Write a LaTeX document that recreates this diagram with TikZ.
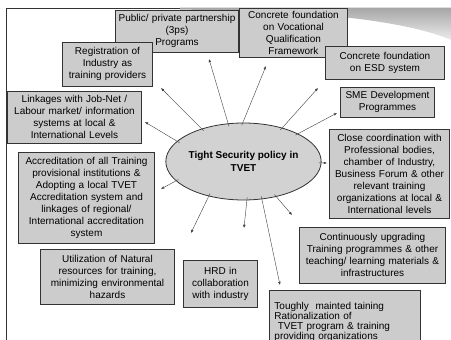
\documentclass[tikz,border=0pt]{standalone}
\usepackage{fontspec}
\setmainfont{Liberation Sans}
\usetikzlibrary{shapes.geometric,arrows.meta}
\definecolor{boxgray}{HTML}{CCCCCC}
\definecolor{hubgray}{HTML}{D2D2D2}
\definecolor{edgegray}{HTML}{333333}
\begin{document}
\begin{tikzpicture}[x=1pt,y=-1pt,
  box/.style={draw=edgegray, fill=boxgray, line width=0.9pt, align=center,
    inner xsep=2pt, inner ysep=0pt, font=\fontsize{10}{12}\selectfont},
  hub/.style={ellipse, draw=edgegray, fill=hubgray, line width=0.8pt, align=center,
    minimum width=143pt, minimum height=77pt, inner sep=0pt,
    font=\fontsize{10}{12.5}\selectfont\bfseries},
  spoke/.style={draw=black!75, line width=0.4pt, shorten <=-3pt,
    -{Latex[length=3.2pt,width=2.6pt]}}]
  \useasboundingbox (0,0) rectangle (451,340);
  \clip (0,0) rectangle (451,340);
  % slide frame
  \fill[white] (0,0) rectangle (451,340);
  \draw[black!80, line width=0.7pt] (6.5,340) -- (6.5,8) -- (180,8);
  \shade[top color=gray!70, bottom color=gray!15]
    (180,7.5) -- (451,7.5) -- (451,40) .. controls (420,26) and (350,14) .. (250,11) -- (180,9.5) -- cycle;
  % top row
  \node[box, text width=119pt, minimum height=42pt] (ppp) at (177,31)
    {Public/ private partnership\\(3ps)\\Programs};
  \node[box, text width=86pt, minimum height=44pt] (reg) at (107.5,64)
    {Registration of\\Industry as\\training providers};
  \node[box, text width=104pt, minimum height=49pt] (vqf) at (293.5,32.5)
    {Concrete foundation\\on Vocational\\Qualification\\Framework};
  \node[box, text width=115pt, minimum height=33pt] (esd) at (385,62.5)
    {Concrete foundation\\on ESD system};
  % left column
  \node[box, text width=130pt, minimum height=52pt] (job) at (74.5,117)
    {Linkages with Job-Net /\\Labour market/ information\\systems at local \&\\International Levels};
  \node[box, text width=132pt, minimum height=91pt] (acc) at (86.5,197.5)
    {Accreditation of all Training\\provisional institutions \&\\Adopting a local TVET\\Accreditation system and\\linkages of regional/\\International accreditation\\system};
  \node[box, text width=130pt, minimum height=55pt] (nat) at (107.5,276.5)
    {Utilization of Natural\\resources for training,\\minimizing environmental\\hazards};
  % right column
  \node[box, text width=90pt, minimum height=30pt] (sme) at (387.5,102)
    {SME Development\\Programmes};
  \node[box, text width=116pt, minimum height=89pt] (coord) at (389.5,173.5)
    {Close coordination with\\Professional bodies,\\chamber of Industry,\\Business Forum \& other\\relevant training\\organizations at local \&\\International levels};
  \node[box, text width=142pt, minimum height=56pt] (upg) at (372.5,255)
    {Continuously upgrading\\Training programmes \& other\\teaching/ learning materials \&\\infrastructures};
  % bottom row
  \node[box, text width=70pt, minimum height=47pt] (hrd) at (220.5,283.5)
    {HRD in\\collaboration\\with industry};
  \node[box, anchor=north west, align=left, text width=141pt, minimum height=62pt,
    inner xsep=5pt, inner ysep=1.5pt, font=\fontsize{10}{10}\selectfont] (rat) at (269,290)
    {Toughly\ \ mainted taining\\Rationalization of\\\ TVET program \& training\\providing organizations};
  % centre
  \node[hub] (tvet) at (243.5,161.5) {Tight Security policy in\\TVET};
  % arrow tips
  \coordinate (regtip) at (161,88);
  \coordinate (ppptip) at (209,59);
  \coordinate (vqftip) at (266,66);
  \coordinate (esdtip) at (318,88);
  \coordinate (smetip) at (337,113);
  \coordinate (jobtip) at (145,122);
  \coordinate (coordtip) at (327,163);
  \coordinate (acctip) at (161,189);
  \coordinate (nattip) at (191,233);
  \coordinate (hrdtip) at (244,228);
  \coordinate (rattip) at (280,285);
  \coordinate (upgtip) at (292,215);
  % spokes
  \draw[spoke] (tvet.142) -- (regtip);
  \draw[spoke] (tvet.112) -- (ppptip);
  \draw[spoke] (tvet.91) -- (vqftip);
  \draw[spoke] (tvet.41) -- (esdtip);
  \draw[spoke] (tvet.27) -- (smetip);
  \draw[spoke] (tvet.163) -- (jobtip);
  \draw[spoke] (tvet.-1) -- (coordtip);
  \draw[spoke] (tvet.196) -- (acctip);
  \draw[spoke] (tvet.225) -- (nattip);
  \draw[spoke] (tvet.275) -- (hrdtip);
  \draw[spoke] (tvet.296) -- (rattip);
  \draw[spoke] (tvet.313) -- (upgtip);
\end{tikzpicture}
\end{document}
